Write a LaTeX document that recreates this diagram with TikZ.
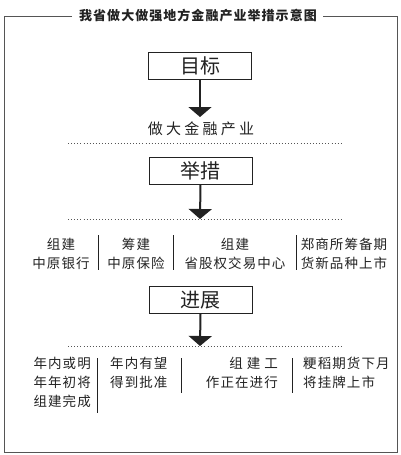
\documentclass[tikz,border=0pt]{standalone}
\usepackage{fontspec}
\setmainfont{Noto Sans CJK SC}
\newfontfamily\cjk{Noto Sans CJK SC}
\usetikzlibrary{arrows.meta}
\definecolor{ink}{HTML}{222222}
\definecolor{frame}{HTML}{555555}
\tikzset{
  headbox/.style={draw=ink, line width=0.9pt, minimum width=103pt, minimum height=27pt, inner sep=0pt,
    font={\cjk\fontsize{20pt}{22pt}\selectfont}, text=ink},
  body/.style={inner sep=0pt, text=ink, font={\cjk\fontsize{13.5pt}{19pt}\selectfont\addfontfeature{LetterSpace=8}}},
  goaltext/.style={inner sep=0pt, text=ink, font={\cjk\fontsize{15pt}{18pt}\selectfont\addfontfeature{LetterSpace=22}}},
  downarrow/.style={draw=ink, line width=2pt, -{Triangle[width=23pt,length=10pt]}},
  dotline/.style={draw=frame, line width=0.8pt, dash pattern=on 0.9pt off 2.2pt},
  sep/.style={draw=ink, line width=1pt},
  titletext/.style={inner sep=0pt, text=ink, font={\cjk\bfseries\fontsize{13pt}{15pt}\selectfont\addfontfeature{LetterSpace=8}}}
}
\begin{document}
\begin{tikzpicture}[x=1pt,y=-1pt]
\useasboundingbox (0,0) rectangle (400,455);
% outer frame
\draw[frame, line width=1pt] (72,16) -- (4,16) -- (4,452) -- (397,452) -- (397,16) -- (323,16);
\node[titletext] (title) at (198,16) {我省做大做强地方金融产业举措示意图};

% goal
\node[headbox] (goal) at (200,65.5) {目标};
\coordinate (goalend) at (200,117);
\draw[downarrow] (goal.south) -- (goalend);
\node[goaltext] (goaltxt) at (201,129) {做大金融产业};
\draw[dotline] (68,143) -- (343,143);

% measures
\node[headbox] (meas) at (200.5,170.5) {举措};
\coordinate (measend) at (200,219);
\draw[downarrow] (meas.south) -- (measend);
\draw[dotline] (68,219.5) -- (343,219.5);

\node[body, align=center] (m1) at (61,253.5) {组建\\中原银行};
\node[body, align=center] (m2) at (136,253.5) {筹建\\中原保险};
\node[body, align=center] (m3) at (235,253.5) {组建\\省股权交易中心};
\node[body, align=left] (m4) at (344,253.5) {郑商所筹备期\\货新品种上市};
\draw[sep] (98,235) -- (98,270);
\draw[sep] (173,235) -- (173,270);
\draw[sep] (296,235) -- (296,270);

% progress
\node[headbox] (prog) at (200.5,300) {进展};
\coordinate (progend) at (200,346);
\draw[downarrow] (prog.south) -- (progend);
\draw[dotline] (68,346.5) -- (343,346.5);

\node[body, align=right, anchor=north east] (p1) at (91,357) {年内或明\\年年初将\\组建完成};
\node[body, align=left, anchor=north west] (p2) at (110,357) {年内有望\\得到批准};
\node[body, align=right, anchor=north east] (p3) at (278,357) {组\hspace{4pt}建\hspace{4pt}工\\作正在进行\hspace{5pt}};
\node[body, align=left, anchor=north west] (p4) at (303,357) {粳稻期货下月\\将挂牌上市};
\draw[sep] (97,358) -- (97,413);
\draw[sep] (181,358) -- (181,393);
\draw[sep] (292,358) -- (292,393);
\end{tikzpicture}
\end{document}
